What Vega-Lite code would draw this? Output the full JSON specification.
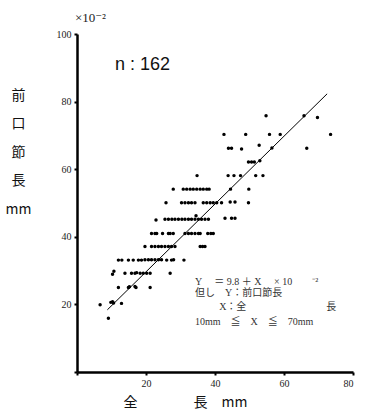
{
  "$schema": "https://vega.github.io/schema/vega-lite/v6.json",
  "width": 276,
  "height": 338,
  "autosize": "none",
  "padding": {"left": 77, "top": 34, "right": 16, "bottom": 46},
  "background": "white",
  "config": {"view": {"stroke": null}},
  "datasets": {
    "pts": [
      {"x": 9.1, "y": 15.9},
      {"x": 6.7, "y": 19.9}, {"x": 9.8, "y": 20.6}, {"x": 10.3, "y": 20.8}, {"x": 10.6, "y": 20.4}, {"x": 12.9, "y": 20.3},
      {"x": 12.0, "y": 25.0}, {"x": 14.9, "y": 25.0}, {"x": 15.2, "y": 25.2}, {"x": 16.8, "y": 25.3}, {"x": 17.1, "y": 25.0}, {"x": 21.2, "y": 25.0},
      {"x": 10.3, "y": 28.9}, {"x": 10.7, "y": 29.8}, {"x": 13.9, "y": 29.2}, {"x": 15.8, "y": 29.2}, {"x": 16.8, "y": 29.2}, {"x": 17.3, "y": 29.4}, {"x": 18.3, "y": 29.2}, {"x": 19.2, "y": 29.2}, {"x": 20.2, "y": 29.2}, {"x": 21.2, "y": 29.2}, {"x": 27.0, "y": 29.2},
      {"x": 12.0, "y": 33.1}, {"x": 13.0, "y": 33.1}, {"x": 14.9, "y": 33.1}, {"x": 16.3, "y": 33.1}, {"x": 17.8, "y": 33.1}, {"x": 18.7, "y": 33.1}, {"x": 19.7, "y": 33.2}, {"x": 20.7, "y": 33.2}, {"x": 21.6, "y": 33.2}, {"x": 22.6, "y": 33.2}, {"x": 23.6, "y": 33.2}, {"x": 24.5, "y": 33.2}, {"x": 26.0, "y": 33.1}, {"x": 27.4, "y": 33.1}, {"x": 28.0, "y": 33.2}, {"x": 31.0, "y": 33.1},
      {"x": 19.7, "y": 37.1}, {"x": 21.6, "y": 37.1}, {"x": 22.6, "y": 37.1}, {"x": 23.6, "y": 37.1}, {"x": 24.5, "y": 37.1}, {"x": 25.5, "y": 37.1}, {"x": 26.5, "y": 37.1}, {"x": 27.4, "y": 37.1}, {"x": 28.4, "y": 37.1}, {"x": 35.7, "y": 37.1}, {"x": 36.4, "y": 37.1}, {"x": 37.1, "y": 37.1},
      {"x": 21.6, "y": 41.0}, {"x": 22.6, "y": 41.0}, {"x": 23.1, "y": 41.0}, {"x": 24.8, "y": 41.0}, {"x": 26.5, "y": 41.0}, {"x": 27.0, "y": 41.0}, {"x": 27.9, "y": 41.0}, {"x": 31.3, "y": 41.0}, {"x": 32.3, "y": 41.0}, {"x": 33.2, "y": 41.0}, {"x": 34.2, "y": 41.0}, {"x": 35.2, "y": 41.0}, {"x": 35.7, "y": 41.0}, {"x": 37.9, "y": 41.0}, {"x": 38.8, "y": 41.0}, {"x": 39.5, "y": 41.0},
      {"x": 22.9, "y": 45.0}, {"x": 25.5, "y": 45.2}, {"x": 26.5, "y": 45.2}, {"x": 27.5, "y": 45.2}, {"x": 28.4, "y": 45.2}, {"x": 29.4, "y": 45.2}, {"x": 30.4, "y": 45.2}, {"x": 31.3, "y": 45.2}, {"x": 32.3, "y": 45.2}, {"x": 33.2, "y": 45.2}, {"x": 34.2, "y": 45.2}, {"x": 35.2, "y": 45.2}, {"x": 36.1, "y": 45.2}, {"x": 37.1, "y": 45.2}, {"x": 38.1, "y": 45.2}, {"x": 34.5, "y": 46.2}, {"x": 42.9, "y": 45.5}, {"x": 44.8, "y": 45.5}, {"x": 45.8, "y": 45.5},
      {"x": 25.8, "y": 50.1}, {"x": 30.3, "y": 50.1}, {"x": 31.3, "y": 50.1}, {"x": 32.3, "y": 50.1}, {"x": 33.2, "y": 50.1}, {"x": 34.2, "y": 50.1}, {"x": 36.6, "y": 50.1}, {"x": 37.6, "y": 50.1}, {"x": 38.6, "y": 50.1}, {"x": 39.5, "y": 50.1}, {"x": 40.5, "y": 50.1}, {"x": 41.9, "y": 50.1}, {"x": 44.4, "y": 50.3}, {"x": 45.8, "y": 50.3}, {"x": 49.7, "y": 50.1},
      {"x": 27.9, "y": 54.1}, {"x": 30.8, "y": 54.1}, {"x": 31.8, "y": 54.1}, {"x": 32.8, "y": 54.1}, {"x": 33.7, "y": 54.1}, {"x": 34.7, "y": 54.1}, {"x": 35.7, "y": 54.1}, {"x": 36.6, "y": 54.1}, {"x": 37.6, "y": 54.1}, {"x": 38.3, "y": 54.1}, {"x": 44.5, "y": 54.1}, {"x": 49.8, "y": 54.1},
      {"x": 34.8, "y": 58.1}, {"x": 43.8, "y": 58.1}, {"x": 45.5, "y": 58.1}, {"x": 47.4, "y": 58.1}, {"x": 51.8, "y": 58.1}, {"x": 53.9, "y": 58.1},
      {"x": 49.7, "y": 62.1}, {"x": 50.6, "y": 62.1}, {"x": 51.4, "y": 62.1}, {"x": 53.0, "y": 62.5},
      {"x": 43.9, "y": 66.2}, {"x": 44.8, "y": 66.2}, {"x": 47.7, "y": 66.0}, {"x": 52.8, "y": 67.1}, {"x": 56.5, "y": 66.3}, {"x": 66.6, "y": 66.2},
      {"x": 42.6, "y": 70.3}, {"x": 48.9, "y": 70.3}, {"x": 55.8, "y": 70.3}, {"x": 58.9, "y": 70.3}, {"x": 73.5, "y": 70.3},
      {"x": 54.8, "y": 75.8}, {"x": 65.8, "y": 75.8}, {"x": 69.7, "y": 75.3}
    ],
    "fit": [{"x": 8.8, "y": 18.4}, {"x": 72.5, "y": 82.3}],
    "notes": [
      {"x": 34.2, "y": 26.6, "t": "Y 　＝ 9.8 ＋ X　 × 10　　⁻²"},
      {"x": 34.2, "y": 23.3, "t": "但し　Y：前口節長"},
      {"x": 41.2, "y": 19.2, "t": "X：全　　　　　　　　長"},
      {"x": 34.2, "y": 14.8, "t": "10mm　≦　X　≦　70mm"}
    ],
    "nlabel": [{"x": 11.0, "y": 90.8, "t": "n : 162"}],
    "unit": [{"x": -0.6, "y": 104.7, "t": "×10⁻²"}]
  },
  "layer": [
    {
      "data": {"name": "pts"},
      "mark": {"type": "circle", "color": "black", "opacity": 1, "size": 12},
      "encoding": {
        "x": {
          "field": "x", "type": "quantitative",
          "scale": {"domain": [0, 80], "nice": false, "zero": false},
          "axis": {
            "values": [0, 10, 20, 30, 40, 50, 60, 70, 80],
            "labelExpr": "datum.value % 20 == 0 && datum.value > 0 ? datum.label : ''",
            "grid": false,
            "domain": true, "domainColor": "black", "domainWidth": 2.5,
            "tickColor": "black", "tickWidth": 2, "tickSize": 3,
            "labelFont": "Liberation Serif", "labelFontSize": 10, "labelColor": "#222",
            "labelPadding": 3,
            "title": "全　　　　長　mm",
            "titleFont": "Noto Sans CJK JP", "titleFontSize": 14, "titleFontWeight": "normal", "titleColor": "#111",
            "titleAnchor": "start", "titleAlign": "left", "titleX": 46, "titleY": 30, "titleBaseline": "middle"
          }
        },
        "y": {
          "field": "y", "type": "quantitative",
          "scale": {"domain": [0, 100], "nice": false, "zero": false},
          "axis": {
            "values": [0, 10, 20, 30, 40, 50, 60, 70, 80, 90, 100],
            "labelExpr": "datum.value % 20 == 0 && datum.value > 0 ? datum.label : ''",
            "grid": false,
            "domain": true, "domainColor": "black", "domainWidth": 2.5,
            "tickColor": "black", "tickWidth": 2, "tickSize": 3,
            "labelFont": "Liberation Serif", "labelFontSize": 10, "labelColor": "#222",
            "labelPadding": 3,
            "title": ["前", "口", "節", "長", "mm"],
            "titleFont": "Noto Sans CJK JP", "titleFontSize": 14, "titleFontWeight": "normal", "titleColor": "#111",
            "titleAngle": 0, "titleAlign": "center", "titleBaseline": "middle",
            "titleLineHeight": 28.5, "titleX": -59, "titleY": 61
          }
        }
      }
    },
    {
      "mark": {"type": "rect", "color": "black", "clip": false},
      "encoding": {
        "x": {"datum": -0.37, "type": "quantitative"},
        "x2": {"datum": 0.37},
        "y": {"datum": -0.37, "type": "quantitative"},
        "y2": {"datum": 100}
      }
    },
    {
      "mark": {"type": "rect", "color": "black", "clip": false},
      "encoding": {
        "x": {"datum": -0.37, "type": "quantitative"},
        "x2": {"datum": 80},
        "y": {"datum": -0.37, "type": "quantitative"},
        "y2": {"datum": 0.37}
      }
    },
    {
      "data": {"name": "fit"},
      "mark": {"type": "line", "color": "black", "strokeWidth": 1},
      "encoding": {
        "x": {"field": "x", "type": "quantitative"},
        "y": {"field": "y", "type": "quantitative"}
      }
    },
    {
      "data": {"name": "notes"},
      "mark": {"type": "text", "align": "left", "baseline": "middle", "font": "Liberation Serif, Noto Sans CJK JP", "fontSize": 10, "color": "#333"},
      "encoding": {
        "x": {"field": "x", "type": "quantitative"},
        "y": {"field": "y", "type": "quantitative"},
        "text": {"field": "t"}
      }
    },
    {
      "data": {"name": "nlabel"},
      "mark": {"type": "text", "align": "left", "baseline": "middle", "font": "Liberation Sans", "fontSize": 18, "color": "#111"},
      "encoding": {
        "x": {"field": "x", "type": "quantitative"},
        "y": {"field": "y", "type": "quantitative"},
        "text": {"field": "t"}
      }
    },
    {
      "data": {"name": "unit"},
      "mark": {"type": "text", "align": "left", "baseline": "middle", "font": "Liberation Serif, DejaVu Serif", "fontSize": 13, "color": "#222"},
      "encoding": {
        "x": {"field": "x", "type": "quantitative"},
        "y": {"field": "y", "type": "quantitative"},
        "text": {"field": "t"}
      }
    }
  ]
}
